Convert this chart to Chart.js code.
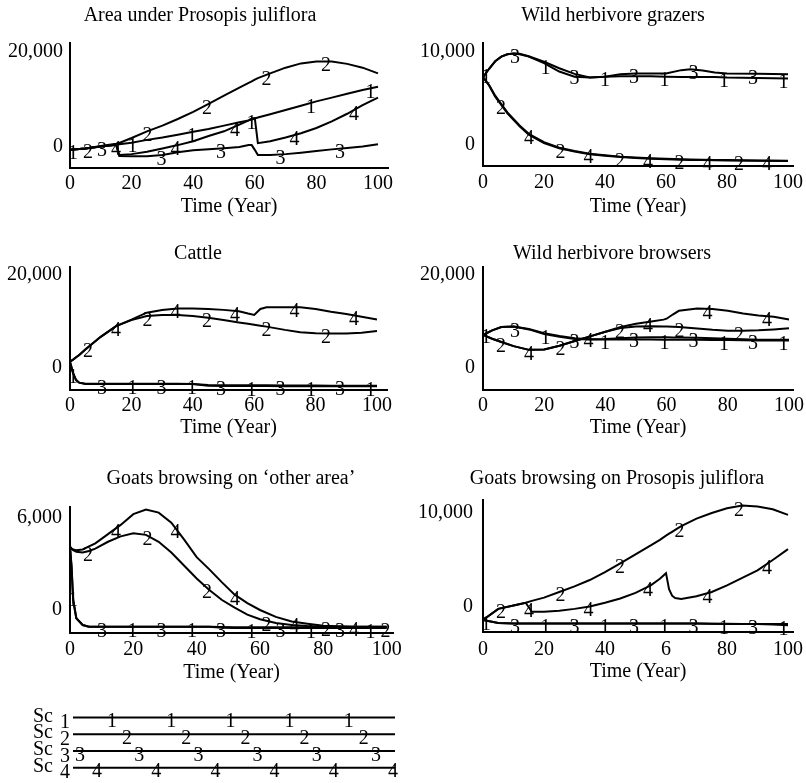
<!DOCTYPE html>
<html>
<head>
<meta charset="utf-8">
<script src="https://cdn.jsdelivr.net/npm/chart.js@4.4.1/dist/chart.umd.min.js"></script>
<style>
  html, body { margin: 0; padding: 0; background: #fff; }
  #wrap { position: relative; width: 806px; height: 783px; overflow: hidden; }
  #wrap canvas { position: absolute; }
</style>
</head>
<body>
<div id="wrap"></div>
<script>
// ---- data ----
const scenarios = ['Sc 1', 'Sc 2', 'Sc 3', 'Sc 4'];
const xTickValues = [0, 20, 40, 60, 80, 100];
const xTickLabels = ['0', '20', '40', '60', '80', '100'];
const xTickLabelsGoatsPj = ['0', '20', '40', '6', '80', '100'];

// Area under Prosopis juliflora
const areaT  = [0, 5, 10, 15, 16, 20, 25, 30, 35, 40, 45, 50, 55, 58, 59, 60, 61, 65, 70, 75, 80, 85, 90, 95, 100];
const areaS1 = [-600, -300, 100, 500, 600, 900, 1500, 2000, 2600, 3200, 3800, 4500, 5200, 5600, 5800, 6000, 6200, 6900, 7800, 8700, 9600, 10400, 11200, 12000, 12700];
const areaS2 = [-600, -300, 200, 700, 850, 1900, 3300, 4500, 5900, 7400, 9100, 10800, 12500, 13500, 13800, 14200, 14500, 15500, 16700, 17600, 18000, 18000, 17500, 16700, 15500];
const areaS3 = [-600, -300, 100, 400, -1900, -1950, -1950, -1700, -1100, -700, -450, -250, 0, 400, 400, -600, -1700, -1700, -1500, -1200, -850, -500, -200, 100, 600];
const areaS4 = [-600, -300, 100, 450, -1700, -1500, -1000, -300, 400, 1200, 2300, 3300, 4700, 5600, 6000, 6100, 800, 1200, 2000, 2900, 4000, 5400, 7000, 8800, 10400];

// Wild herbivore grazers
const grazT  = [0, 2, 4, 6, 8, 10, 12, 15, 20, 25, 30, 35, 40, 45, 50, 55, 60, 65, 68, 72, 76, 80, 90, 100];
const grazS1 = [7300, 8200, 9000, 9500, 9750, 9850, 9750, 9500, 8800, 7900, 7350, 7250, 7350, 7400, 7400, 7400, 7350, 7300, 7300, 7300, 7300, 7250, 7200, 7150];
const grazS2 = [7300, 6400, 5200, 4300, 3400, 2700, 2000, 1100, 200, -350, -700, -1000, -1150, -1300, -1400, -1480, -1540, -1580, -1600, -1620, -1640, -1660, -1700, -1720];
const grazS3 = [7300, 8200, 9000, 9500, 9750, 9850, 9800, 9550, 8950, 8250, 7650, 7250, 7350, 7600, 7700, 7700, 7700, 8050, 8150, 8000, 7800, 7700, 7650, 7600];
const grazS4 = [7300, 6450, 5300, 4400, 3500, 2800, 2100, 1200, 300, -300, -650, -950, -1100, -1250, -1350, -1420, -1480, -1530, -1560, -1580, -1600, -1620, -1660, -1700];

// Cattle
const cattleT  = [0, 1, 2, 3, 5, 10, 15, 20, 25, 30, 35, 40, 45, 50, 55, 58, 60, 62, 64, 70, 75, 80, 85, 90, 95, 100];
const cattleS1 = [1350, -1100, -2600, -3150, -3450, -3450, -3450, -3450, -3450, -3450, -3450, -3450, -3800, -3850, -3850, -3850, -3850, -3850, -3850, -3900, -3900, -3900, -3900, -3950, -3950, -3950];
const cattleS2 = [1350, 1800, 2300, 2800, 4000, 6700, 9000, 10300, 11200, 11400, 11400, 11200, 10800, 10300, 9800, 9500, 9300, 9100, 8900, 8200, 7700, 7450, 7400, 7400, 7600, 7950];
const cattleS3 = [1350, -1100, -2600, -3150, -3400, -3400, -3400, -3400, -3400, -3400, -3400, -3450, -3650, -3700, -3700, -3700, -3700, -3700, -3700, -3750, -3750, -3750, -3800, -3800, -3800, -3800];
const cattleS4 = [1350, 1800, 2300, 2800, 4000, 6700, 9000, 10400, 11900, 12450, 12800, 12800, 12700, 12500, 12200, 11700, 11400, 12700, 13050, 13050, 13050, 12700, 12100, 11600, 11000, 10450];

// Wild herbivore browsers
const browT  = [0, 3, 6, 10, 15, 20, 25, 30, 35, 40, 45, 50, 55, 59, 60, 62, 64, 70, 75, 80, 85, 90, 95, 100];
const browS1 = [7100, 8100, 8800, 8900, 8300, 7300, 6700, 6250, 6150, 6150, 6150, 6150, 6150, 6100, 6100, 6100, 6100, 6050, 6000, 6000, 5950, 5900, 5900, 5900];
const browS2 = [7100, 6300, 5600, 4700, 3900, 4000, 4800, 5800, 6800, 7800, 8600, 8900, 9000, 8900, 8900, 8850, 8800, 8500, 8200, 8000, 8000, 8100, 8300, 8550];
const browS3 = [7100, 8100, 8800, 8900, 8400, 7500, 6900, 6400, 6200, 6250, 6400, 6550, 6600, 6600, 6600, 6550, 6550, 6500, 6400, 6300, 6200, 6100, 6100, 6100];
const browS4 = [7100, 6300, 5600, 4700, 3900, 4000, 4800, 5800, 6800, 7800, 8800, 9500, 10000, 10400, 10600, 11500, 12300, 12800, 12700, 12300, 11700, 11300, 11000, 10450];

// Goats browsing on 'other area'
const gOtherT  = [0, 0.5, 1, 2, 4, 6, 8, 12, 16, 20, 24, 28, 32, 36, 40, 44, 48, 52, 56, 60, 65, 70, 75, 80, 90, 100];
const gOtherS1 = [4130, 2800, 650, -540, -980, -1090, -1100, -1100, -1100, -1100, -1100, -1100, -1100, -1100, -1100, -1100, -1150, -1170, -1170, -1170, -1170, -1170, -1170, -1170, -1170, -1170];
const gOtherS2 = [4130, 4000, 3900, 3800, 3750, 3850, 4000, 4450, 4800, 5000, 4900, 4450, 3750, 2900, 2050, 1300, 650, 150, -300, -600, -850, -980, -1050, -1090, -1100, -1100];
const gOtherS3 = [4130, 2800, 650, -540, -980, -1090, -1100, -1100, -1100, -1100, -1100, -1100, -1100, -1100, -1100, -1100, -1110, -1120, -1120, -1120, -1120, -1120, -1120, -1120, -1120, -1120];
const gOtherS4 = [4130, 4000, 3950, 3900, 3950, 4150, 4350, 4950, 5550, 6250, 6550, 6350, 5700, 4600, 3450, 2650, 1800, 1000, 450, 0, -450, -750, -900, -1030, -1090, -1100];

// Goats browsing on Prosopis juliflora
const gPjT  = [0, 5, 10, 14, 16, 20, 25, 30, 35, 40, 45, 50, 55, 58, 60, 61, 62, 63, 65, 70, 75, 80, 85, 90, 95, 100];
const gPjS1 = [-1380, -1700, -1750, -1750, -1750, -1750, -1750, -1750, -1750, -1750, -1750, -1750, -1750, -1750, -1750, -1750, -1750, -1750, -1750, -1750, -1780, -1800, -1800, -1820, -1850, -1950];
const gPjS2 = [-1380, -200, 150, 450, 650, 1000, 1600, 2200, 2870, 3700, 4650, 5600, 6550, 7150, 7600, 7800, 8000, 8200, 8600, 9400, 10000, 10500, 10800, 10700, 10400, 9800];
const gPjS3 = [-1380, -1700, -1750, -1750, -1750, -1750, -1750, -1750, -1750, -1750, -1750, -1750, -1750, -1750, -1750, -1750, -1750, -1750, -1750, -1750, -1780, -1780, -1800, -1800, -1800, -1820];
const gPjS4 = [-1380, -200, 150, 450, -500, -500, -400, -200, 50, 450, 900, 1500, 2300, 3000, 3600, 1900, 1200, 950, 850, 1150, 1600, 2300, 3100, 3900, 5000, 6150];

// ---- drawing ----
const FONT = 'Liberation Serif';
Chart.defaults.font.family = FONT;
Chart.defaults.font.size = 20;
Chart.defaults.color = '#000';
const wrap = document.getElementById('wrap');

// scenario numbers written along each line, every ~60 px (Vensim style)
const lineNumbers = {
  id: 'lineNumbers',
  afterDatasetsDraw(chart, args, opts) {
    const {ctx, chartArea} = chart;
    const xs = chart.scales.x, ys = chart.scales.y;
    ctx.save();
    ctx.font = '20px "' + FONT + '"';
    ctx.fillStyle = '#000';
    ctx.textAlign = 'center';
    ctx.textBaseline = 'middle';
    chart.data.datasets.forEach((ds, k) => {
      const pts = ds.data;
      const endPx = xs.getPixelForValue(pts[pts.length - 1].x);
      for (let px = chartArea.left + opts.offsets[k]; px <= endPx + 1; px += opts.step) {
        const t = xs.getValueForPixel(px);
        let j = 1;
        while (j < pts.length - 1 && pts[j].x < t) j++;
        const a = pts[j - 1], b = pts[j];
        const f = Math.min(1, Math.max(0, (t - a.x) / (b.x - a.x)));
        ctx.fillText(ds.tag, px, ys.getPixelForValue(a.y + f * (b.y - a.y)) + opts.dy);
      }
    });
    ctx.restore();
  }
};

// panel heading, centred where the original puts it
const panelTitle = {
  id: 'panelTitle',
  afterDraw(chart, args, opts) {
    const ctx = chart.ctx;
    ctx.save();
    ctx.font = '20px "' + FONT + '"';
    ctx.fillStyle = '#000';
    ctx.textAlign = 'center';
    ctx.textBaseline = 'middle';
    ctx.fillText(opts.text, opts.x, opts.y);
    ctx.restore();
  }
};

function addCanvas(left, top, w, h) {
  const c = document.createElement('canvas');
  c.width = w; c.height = h;
  c.style.left = left + 'px';
  c.style.top = top + 'px';
  wrap.appendChild(c);
  return c;
}

function makePanel(p) {
  const top = p.titleY - 16;
  const height = p.B + p.axisH + 2 - top;
  const canvas = addCanvas(p.col, top, 403, height);
  const yW = p.L - p.col - 4;
  const axisBorder = {display: true, color: '#000', width: 2};
  new Chart(canvas, {
    type: 'line',
    data: {
      datasets: p.series.map((s, k) => ({
        label: scenarios[k],
        tag: String(k + 1),
        data: p.t.map((x, i) => ({x: x, y: s[i]})),
        borderColor: '#000',
        borderWidth: 2,
        pointRadius: 0,
        tension: 0,
        fill: false
      }))
    },
    options: {
      animation: false,
      responsive: false,
      events: [],
      layout: {padding: {left: 4, right: p.col + 403 - p.R, top: p.T - top, bottom: 2}},
      plugins: {
        legend: {display: false},
        tooltip: {enabled: false},
        panelTitle: {text: p.title, x: p.cx - p.col, y: p.titleY - top},
        lineNumbers: {offsets: [3, 18, 32, 46], step: 59.5, dy: 4.5}
      },
      scales: {
        x: {
          type: 'linear',
          min: 0,
          max: p.xMax,
          grid: {display: false, drawTicks: false},
          border: axisBorder,
          afterBuildTicks: s => { s.ticks = xTickValues.map(v => ({value: v})); },
          afterFit: s => { s.height = p.axisH; s.paddingLeft = 0; s.paddingRight = 0; },
          ticks: {
            padding: p.xPad,
            maxRotation: 0,
            autoSkip: false,
            color: '#000',
            font: {family: FONT, size: 20},
            callback: (v, i) => (p.xLabels || xTickLabels)[i]
          },
          title: {display: true, text: 'Time (Year)', color: '#000', font: {family: FONT, size: 20}, padding: 0}
        },
        y: {
          type: 'linear',
          min: p.yMin,
          max: p.yMax,
          grid: {display: false, drawTicks: false},
          border: axisBorder,
          afterBuildTicks: s => { s.ticks = p.yTicks.map(v => ({value: v})); },
          afterFit: s => { s.width = yW; s.paddingTop = 0; s.paddingBottom = 0; },
          ticks: {
            padding: p.yPad,
            color: '#000',
            font: {family: FONT, size: 20},
            callback: (v, i) => p.yLabels[i]
          }
        }
      }
    },
    plugins: [lineNumbers, panelTitle]
  });
}

makePanel({title: 'Area under Prosopis juliflora', col: 0, cx: 200, titleY: 16,
  L: 70, R: 388, T: 43, B: 168, axisH: 51, xPad: 4, yPad: 7, xMax: 103.25,
  yMin: -4421, yMax: 21895, yTicks: [0, 20000], yLabels: ['0', '20,000'],
  t: areaT, series: [areaS1, areaS2, areaS3, areaS4]});

makePanel({title: 'Wild herbivore grazers', col: 403, cx: 613, titleY: 16,
  L: 483, R: 793, T: 43, B: 166, axisH: 53, xPad: 5, yPad: 8, xMax: 101.64,
  yMin: -2258, yMax: 10968, yTicks: [0, 10000], yLabels: ['0', '10,000'],
  t: grazT, series: [grazS1, grazS2, grazS3, grazS4]});

makePanel({title: 'Cattle', col: 0, cx: 198, titleY: 254,
  L: 70, R: 387, T: 267, B: 390, axisH: 50, xPad: 4, yPad: 8, xMax: 103.26,
  yMin: -4731, yMax: 21720, yTicks: [0, 20000], yLabels: ['0', '20,000'],
  t: cattleT, series: [cattleS1, cattleS2, cattleS3, cattleS4]});

makePanel({title: 'Wild herbivore browsers', col: 403, cx: 612, titleY: 254,
  L: 483, R: 793, T: 267, B: 390, axisH: 50, xPad: 4, yPad: 8, xMax: 101.3,
  yMin: -4731, yMax: 21720, yTicks: [0, 20000], yLabels: ['0', '20,000'],
  t: browT, series: [browS1, browS2, browS3, browS4]});

makePanel({title: 'Goats browsing on \u2018other area\u2019', col: 0, cx: 231, titleY: 479,
  L: 70, R: 393, T: 507, B: 633, axisH: 52, xPad: 5, yPad: 8, xMax: 102,
  yMin: -1500, yMax: 6717, yTicks: [0, 6000], yLabels: ['0', '6,000'],
  t: gOtherT, series: [gOtherS1, gOtherS2, gOtherS3, gOtherS4]});

makePanel({title: 'Goats browsing on Prosopis juliflora', col: 403, cx: 617, titleY: 479,
  L: 483, R: 793, T: 500, B: 632, axisH: 52, xPad: 6, yPad: 10, xMax: 101.64,
  yMin: -2660, yMax: 11383, yTicks: [0, 10000], yLabels: ['0', '10,000'], xLabels: xTickLabelsGoatsPj,
  t: gPjT, series: [gPjS1, gPjS2, gPjS3, gPjS4]});

// legend: one line per scenario
const scLabels = {
  id: 'scLabels',
  afterDatasetsDraw(chart) {
    const {ctx, chartArea} = chart;
    const ys = chart.scales.y;
    ctx.save();
    ctx.font = '20px "' + FONT + '"';
    ctx.fillStyle = '#000';
    ctx.textBaseline = 'middle';
    chart.data.datasets.forEach((ds) => {
      const y = ys.getPixelForValue(ds.data[0].y);
      const parts = ds.label.split(' ');
      ctx.textAlign = 'right';
      ctx.fillText(parts[0], chartArea.left - 20, y - 1);
      ctx.textAlign = 'center';
      ctx.fillText(parts[1], chartArea.left - 8, y + 5.5);
    });
    ctx.restore();
  }
};

new Chart(addCanvas(0, 695, 420, 88), {
  type: 'line',
  data: {
    datasets: scenarios.map((name, k) => ({
      label: name,
      tag: String(k + 1),
      data: [{x: 0, y: scenarios.length - k}, {x: 100, y: scenarios.length - k}],
      borderColor: '#000',
      borderWidth: 2,
      pointRadius: 0
    }))
  },
  options: {
    animation: false,
    responsive: false,
    events: [],
    layout: {padding: {left: 73, right: 25, top: 14, bottom: 7}},
    plugins: {
      legend: {display: false},
      tooltip: {enabled: false},
      lineNumbers: {offsets: [39, 54, 7, 24], step: 59.2, dy: 4.5}
    },
    scales: {
      x: {type: 'linear', display: false, min: 0, max: 100},
      y: {type: 'linear', display: false, min: 0.5, max: 4.5}
    }
  },
  plugins: [lineNumbers, scLabels]
});
</script>
</body>
</html>
